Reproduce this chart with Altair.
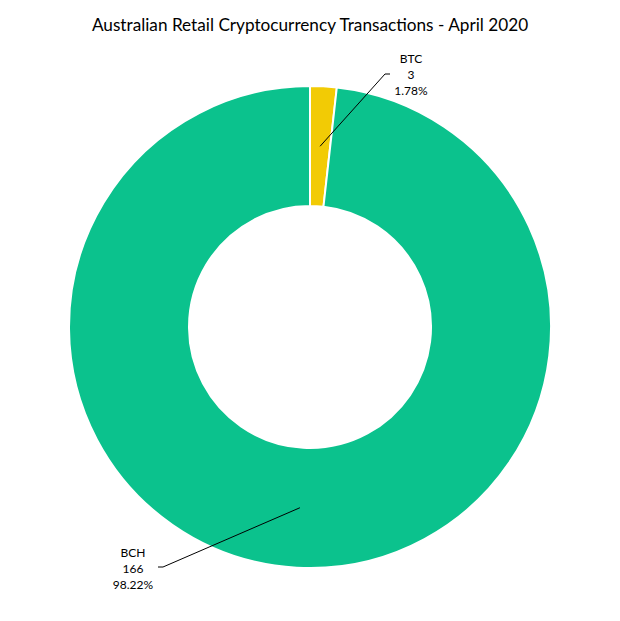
import math
import altair as alt
import pandas as pd

# ---- data ----
categories = ["BTC", "BCH"]
counts = [3, 166]
colors = ["#F2CB05", "#0BC28D"]

title_text = "Australian Retail Cryptocurrency Transactions - April 2020"

# ---- layout constants (px) ----
W, H = 604, 558
R_OUT, R_IN = 241, 121
R_MID = (R_OUT + R_IN) / 2
# elbow, end of leader line and first text line centre, relative to pie centre
label_layout = {
    "BTC": ((75, -253), (80, -253), (101, -268)),
    "BCH": ((-147, 240), (-152, 240), (-177, 226)),
}

total = sum(counts)
arc_rows, line_rows, text_rows = [], [], []
cum = 0
for i, (c, v) in enumerate(zip(categories, counts)):
    arc_rows.append({"cat": c, "count": v, "idx": i})
    a = 2 * math.pi * (cum + v / 2) / total
    cum += v
    sx, sy = R_MID * math.sin(a), -R_MID * math.cos(a)
    elbow, end, tc = label_layout[c]
    for s, (x, y) in enumerate([(sx, sy), elbow, end]):
        line_rows.append({"cat": c, "seq": s, "x": x, "y": y})
    text_rows.append({"cat": c, "x": tc[0], "y": tc[1],
                      "label": f"{c}\n{v}\n{v / total * 100:.2f}%"})

arc_df = pd.DataFrame(arc_rows)
line_df = pd.DataFrame(line_rows)
text_df = pd.DataFrame(text_rows)

xs = alt.Scale(domain=[-W / 2, W / 2], range=[0, W])
ys = alt.Scale(domain=[-H / 2, H / 2], range=[0, H])

arc = alt.Chart(arc_df).mark_arc(
    radius=R_OUT, radius2=R_IN, stroke="white", strokeWidth=2
).encode(
    theta=alt.Theta("count:Q", stack=True),
    color=alt.Color("cat:N", scale=alt.Scale(domain=categories, range=colors), legend=None),
    order=alt.Order("idx:Q"),
)

lines = alt.Chart(line_df).mark_line(color="black", strokeWidth=1).encode(
    x=alt.X("x:Q", scale=xs, axis=None),
    y=alt.Y("y:Q", scale=ys, axis=None),
    detail="cat:N",
    order="seq:Q",
)

texts = alt.Chart(text_df).mark_text(
    font="Lato", fontSize=12, lineBreak="\n", lineHeight=16,
    align="center", baseline="middle", color="black",
).encode(
    x=alt.X("x:Q", scale=xs, axis=None),
    y=alt.Y("y:Q", scale=ys, axis=None),
    text="label:N",
)

chart = alt.layer(arc, lines, texts).properties(
    width=W, height=H,
    title=alt.TitleParams(title_text, font="Lato", fontSize=17.2, fontWeight="normal",
                          color="black", anchor="middle", offset=14),
    padding={"left": 0, "right": 0, "top": 40, "bottom": 0},
    autosize=alt.AutoSizeParams(type="none"),
).configure_view(stroke=None)

chart.save("out.html", embed_options={"renderer": "svg", "actions": False})
